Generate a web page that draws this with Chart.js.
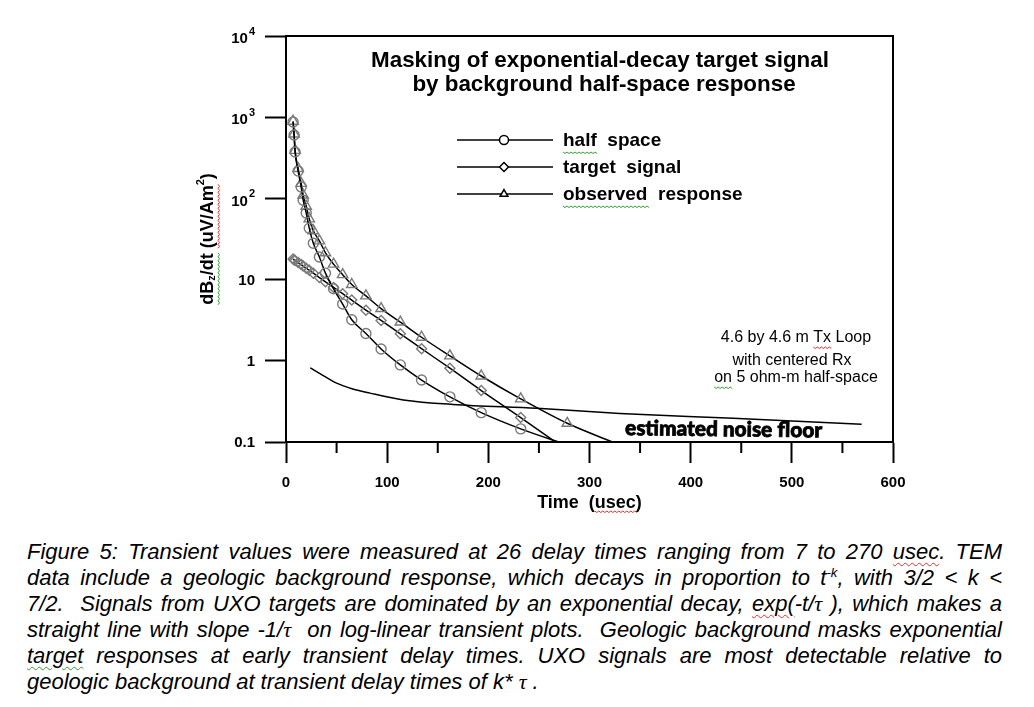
<!DOCTYPE html>
<html>
<head>
<meta charset="utf-8">
<title>Masking of exponential-decay target signal</title>
<script src="https://cdn.jsdelivr.net/npm/chart.js@4.4.0/dist/chart.umd.min.js"></script>
<style>
  html, body { margin: 0; padding: 0; background: #fff; }
  body { width: 1034px; height: 707px; position: relative; overflow: hidden; }
  #wrap { position: absolute; left: 0; top: 0; width: 1034px; height: 520px; }
  #caption {
    position: absolute; left: 27px; top: 539px; width: 975px;
    font-family: "Liberation Sans", Arial, sans-serif; font-style: italic;
    font-size: 22px; line-height: 26px; color: #000;
  }
  #caption .ln { white-space: nowrap; text-align: justify; text-align-last: justify; }
  #caption .ln.last { text-align-last: left; }
  #caption sup { font-size: 0.6em; vertical-align: 0.6em; line-height: 0; }
  #caption .tau { font-family: "Liberation Serif", serif; }
  .sq { text-decoration: underline wavy; text-decoration-thickness: 1px; text-underline-offset: 3px; }
  .sq.r { text-decoration-color: #e03030; }
  .sq.g { text-decoration-color: #30a030; }
</style>
</head>
<body>
<div id="wrap"><canvas id="decayChart"></canvas></div>
<div id="caption">
  <div class="ln">Figure 5: Transient values were measured at 26 delay times ranging from 7 to 270 <span class="sq r">usec</span>. TEM</div>
  <div class="ln">data include a geologic background response, which decays in proportion to t<sup>-k</sup>, with 3/2 &lt; k &lt;</div>
  <div class="ln">7/2.&nbsp; Signals from UXO targets are dominated by an exponential decay, <span class="sq r">exp(</span>-t/<span class="tau">τ</span> ), which makes a</div>
  <div class="ln">straight line with slope -1/<span class="tau">τ</span>&nbsp; on log-linear transient plots.&nbsp; Geologic background masks exponential</div>
  <div class="ln"><span class="sq g">target</span> responses at early transient delay times. UXO signals are most detectable relative to</div>
  <div class="ln last">geologic background at transient delay times of k* <span class="tau">τ</span> .</div>
</div>
<script>
// delay times (usec) of the plotted gates
const gateTimes = [7, 8, 9, 12, 15, 17, 20, 23, 27, 33, 39, 47, 56, 65, 79, 94, 113, 134, 162, 193, 232, 278];
// dBz/dt values (uV/Am^2)
const halfSpace = [873, 604, 373, 217, 138, 95, 66, 43, 28, 19, 12, 7.7, 5.0, 3.2, 2.17, 1.40, 0.89, 0.58, 0.36, 0.23, 0.145, 0.092];
const targetSignal = [17.9, 17.5, 17.2, 16.2, 15.3, 14.7, 13.8, 13.0, 12.0, 10.6, 9.4, 8.0, 6.7, 5.6, 4.2, 3.14, 2.15, 1.41, 0.81, 0.43, 0.20, 0.079];
const observedTimes = [7, 8, 9, 12, 15, 17, 20, 23, 27, 33, 39, 47, 56, 65, 79, 94, 113, 134, 162, 193, 232, 278, 330];
const observed = [891, 622, 390, 233, 153, 110, 80, 56, 40, 30, 21.4, 15.5, 11.5, 8.7, 6.3, 4.4, 3.0, 1.95, 1.15, 0.65, 0.34, 0.17, 0.092];
// estimated noise floor curve
const noiseTimes = [24, 34, 50, 66, 83, 116, 165, 248, 330, 442, 569];
const noiseFloor = [0.82, 0.69, 0.53, 0.45, 0.40, 0.33, 0.29, 0.26, 0.225, 0.196, 0.165];

const legendLabels = ['half  space', 'target  signal', 'observed  response'];
const yTickValues = [0.1, 1, 10, 100, 1000, 10000];
const yTickLabels = ['0.1', '1', '10', '10', '10', '10'];
const yTickPowers = ['', '', '', '2', '3', '4'];
const minorXTicks = [50, 150, 250, 350, 450, 550];

const FONT = '"Liberation Sans", Arial, sans-serif';
Chart.defaults.font.family = FONT;
Chart.defaults.color = '#000';

function toPoints(xs, ys) {
    return xs.map((x, i) => ({ x: x, y: ys[i] }));
}

// markers below the 0.1 floor are not drawn, only the line runs out to the axis
function markerSize(r) {
    return ctx => (ctx.raw && ctx.raw.y < 0.1 ? 0 : r);
}

function markedSeries(label, data, style, r) {
    return {
        label: label,
        data: data,
        showLine: true,
        borderColor: '#000',
        borderWidth: 1.5,
        cubicInterpolationMode: 'monotone',
        pointStyle: style,
        pointRadius: markerSize(r),
        pointHoverRadius: markerSize(r),
        pointBorderColor: '#7a7a7a',
        pointBackgroundColor: 'rgba(0,0,0,0)',
        pointBorderWidth: 1.4
    };
}

// wavy spell-check style mark, like the ones in the original screenshot
function squiggle(ctx, x1, x2, y, color) {
    ctx.save();
    ctx.strokeStyle = color;
    ctx.lineWidth = 1;
    ctx.beginPath();
    ctx.moveTo(x1, y);
    for (let x = x1, k = 0; x < x2; x += 2, k++) {
        ctx.lineTo(x + 2, y + (k % 2 ? 0 : 1.5));
    }
    ctx.stroke();
    ctx.restore();
}

// squiggle under a part of a left-aligned string
function markWord(ctx, text, word, x, y, color) {
    const i = text.indexOf(word);
    const x1 = x + ctx.measureText(text.slice(0, i)).width;
    const x2 = x1 + ctx.measureText(word).width;
    squiggle(ctx, x1, x2, y, color);
}

const annotations = {
    id: 'annotations',
    afterDraw(chart) {
        const ctx = chart.ctx;
        const a = chart.chartArea;
        const xs = chart.scales.x;
        const ys = chart.scales.y;
        ctx.save();

        // top and right frame plus minor time ticks
        ctx.strokeStyle = '#000';
        ctx.lineWidth = 2;
        ctx.beginPath();
        ctx.moveTo(a.left, a.top);
        ctx.lineTo(a.right, a.top);
        ctx.lineTo(a.right, a.bottom);
        minorXTicks.forEach(v => {
            const px = xs.getPixelForValue(v);
            ctx.moveTo(px, a.bottom);
            ctx.lineTo(px, a.bottom + 11);
        });
        ctx.stroke();

        // y tick labels with real superscripts
        ctx.fillStyle = '#000';
        ctx.textBaseline = 'middle';
        yTickValues.forEach((v, i) => {
            const py = ys.getPixelForValue(v);
            const right = 255;
            if (yTickPowers[i]) {
                ctx.font = 'bold 11px ' + FONT;
                ctx.textAlign = 'right';
                ctx.fillText(yTickPowers[i], right, py - 4);
                const sw = ctx.measureText(yTickPowers[i]).width;
                ctx.font = 'bold 15px ' + FONT;
                ctx.fillText(yTickLabels[i], right - sw - 1, py + 3);
            } else {
                ctx.font = 'bold 15px ' + FONT;
                ctx.textAlign = 'right';
                ctx.fillText(yTickLabels[i], right, py + 1);
            }
        });

        // title inside the plot
        ctx.textAlign = 'center';
        ctx.textBaseline = 'alphabetic';
        ctx.font = 'bold 22.4px ' + FONT;
        ctx.fillText('Masking of exponential-decay target signal', 600, 67);
        ctx.fillText('by background half-space response', 604, 91);

        // legend: line with marker in the middle
        const styles = ['circle', 'rectRot', 'triangle'];
        const rows = [140, 167, 194];
        rows.forEach((ly, i) => {
            ctx.strokeStyle = '#000';
            ctx.lineWidth = 1.5;
            ctx.beginPath();
            ctx.moveTo(457, ly);
            ctx.lineTo(553, ly);
            ctx.stroke();
            ctx.fillStyle = '#fff';
            Chart.helpers.drawPoint(ctx, { pointStyle: styles[i], radius: 4.5, rotation: 0, borderWidth: 1.3 }, 504, ly);
            ctx.fillStyle = '#000';
            ctx.textAlign = 'left';
            ctx.textBaseline = 'middle';
            ctx.font = 'bold 19px ' + FONT;
            ctx.fillText(legendLabels[i], 563, ly + 1);
        });
        ctx.font = 'bold 19px ' + FONT;
        markWord(ctx, legendLabels[0], 'half', 563, 152, '#30a030');
        markWord(ctx, legendLabels[2], 'observed', 563, 206, '#30a030');

        // loop description
        ctx.textBaseline = 'middle';
        ctx.font = '16px ' + FONT;
        const notes = ['4.6 by 4.6 m Tx Loop', 'with centered Rx', 'on 5 ohm-m half-space'];
        const noteX = [796, 792, 796];
        const noteY = [338, 361, 378];
        notes.forEach((t, i) => {
            const w = ctx.measureText(t).width;
            ctx.textAlign = 'left';
            ctx.fillText(t, noteX[i] - w / 2, noteY[i]);
        });
        markWord(ctx, notes[0], 'Tx', noteX[0] - ctx.measureText(notes[0]).width / 2, noteY[0] + 9, '#e03030');
        markWord(ctx, notes[2], 'on', noteX[2] - ctx.measureText(notes[2]).width / 2, noteY[2] + 9, '#30a030');

        // noise floor label, squeezed to its width in the original
        ctx.save();
        ctx.translate(625, 435);
        ctx.rotate(0.012);
        ctx.font = '900 21px Lato, ' + FONT;
        ctx.textAlign = 'left';
        ctx.textBaseline = 'alphabetic';
        ctx.lineWidth = 0.8;
        ctx.strokeStyle = '#000';
        const nw = ctx.measureText('estimated noise floor').width;
        ctx.scale(197 / nw, 1);
        ctx.fillText('estimated noise floor', 0, 0);
        ctx.strokeText('estimated noise floor', 0, 0);
        ctx.restore();

        // squiggle under "usec" of the time title
        ctx.font = 'bold 18px ' + FONT;
        const xt = 'Time  (usec)';
        const xtLeft = (a.left + a.right) / 2 - ctx.measureText(xt).width / 2;
        markWord(ctx, xt, 'usec', xtLeft, 511, '#e03030');

        // y axis title with subscript and superscript
        ctx.save();
        ctx.translate(208, (a.top + a.bottom) / 2);
        ctx.rotate(-Math.PI / 2);
        const parts = [['dB', 18, 0], ['z', 11, 4], ['/dt (uV/Am', 18, 0], ['2', 11, -7], [')', 18, 0]];
        let total = 0;
        parts.forEach(p => { ctx.font = 'bold ' + p[1] + 'px ' + FONT; total += ctx.measureText(p[0]).width; });
        let cx = -total / 2;
        const starts = [];
        ctx.textAlign = 'left';
        ctx.textBaseline = 'middle';
        parts.forEach(p => {
            ctx.font = 'bold ' + p[1] + 'px ' + FONT;
            starts.push(cx);
            ctx.fillText(p[0], cx, p[2]);
            cx += ctx.measureText(p[0]).width;
        });
        ctx.font = 'bold 18px ' + FONT;
        const mid = parts[2][0];
        const dtEnd = starts[2] + ctx.measureText('/dt').width;
        const uvStart = starts[2] + ctx.measureText('/dt ').width;
        squiggle(ctx, starts[0], dtEnd, 10, '#30a030');
        squiggle(ctx, uvStart, starts[2] + ctx.measureText(mid).width, 10, '#e03030');
        ctx.restore();

        ctx.restore();
    }
};

const ctx = document.getElementById('decayChart').getContext('2d');
const decayChart = new Chart(ctx, {
    type: 'scatter',
    data: {
        datasets: [
            markedSeries('half space', toPoints(gateTimes, halfSpace), 'circle', 5),
            markedSeries('target signal', toPoints(gateTimes, targetSignal), 'rectRot', 5),
            markedSeries('observed response', toPoints(observedTimes, observed), 'triangle', 6),
            {
                label: 'estimated noise floor',
                data: toPoints(noiseTimes, noiseFloor),
                showLine: true,
                borderColor: '#000',
                borderWidth: 1.5,
                cubicInterpolationMode: 'monotone',
                pointRadius: 0,
                pointHoverRadius: 0
            }
        ]
    },
    options: {
        responsive: true,
        maintainAspectRatio: false,
        animation: false,
        events: [],
        layout: { padding: { top: 36, right: 141, left: 0, bottom: 0 } },
        plugins: {
            legend: { display: false },
            tooltip: { enabled: false },
            title: { display: false }
        },
        scales: {
            x: {
                type: 'linear',
                min: 0,
                max: 600,
                afterFit: scale => { scale.height = 78; },
                ticks: { stepSize: 100, padding: 11, font: { size: 15, weight: 'bold' }, maxRotation: 0 },
                grid: { drawOnChartArea: false, drawTicks: true, tickLength: 21, tickWidth: 2, tickColor: '#000' },
                border: { display: true, color: '#000', width: 2 },
                title: { display: true, text: 'Time  (usec)', font: { size: 18, weight: 'bold' }, padding: { top: 0, bottom: 6 } }
            },
            y: {
                type: 'logarithmic',
                min: 0.1,
                max: 10000,
                afterFit: scale => { scale.width = 286; },
                afterBuildTicks: scale => { scale.ticks = yTickValues.map(v => ({ value: v })); },
                ticks: { display: false },
                grid: { drawOnChartArea: false, drawTicks: true, tickLength: 21, tickWidth: 2, tickColor: '#000' },
                border: { display: true, color: '#000', width: 2 }
            }
        }
    },
    plugins: [annotations]
});
</script>
</body>
</html>
